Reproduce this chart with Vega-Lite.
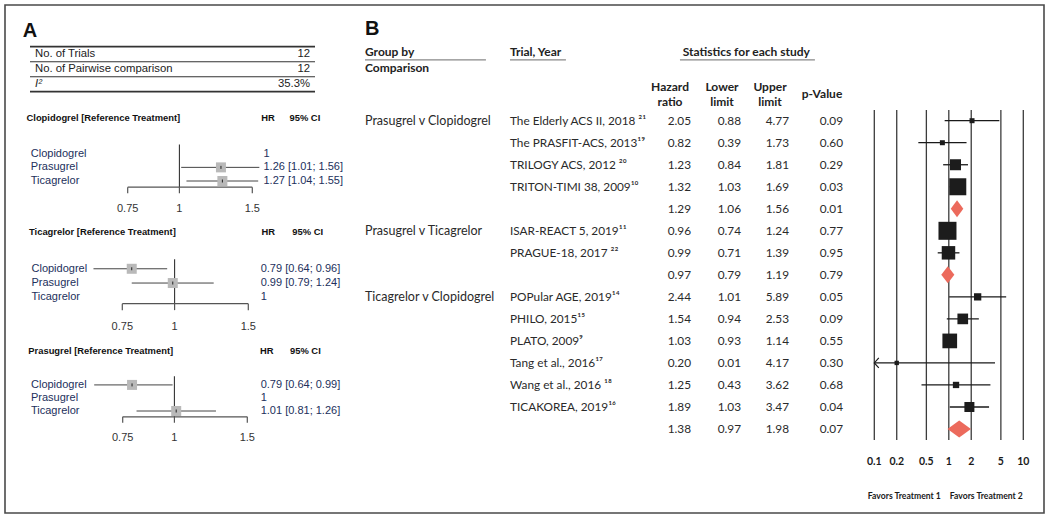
{
  "$schema": "https://vega.github.io/schema/vega-lite/v6.json",
  "width": 1039,
  "height": 508,
  "padding": 5,
  "autosize": {"type": "none"},
  "background": "white",
  "config": {
    "view": {"stroke": "#4a4a4a", "strokeWidth": 1.6},
    "axis": {"disable": true},
    "legend": {"disable": true}
  },
  "datasets": {
    "summary": [
      {"stat": "No. of Trials", "value": "12"},
      {"stat": "No. of Pairwise comparison", "value": "12"},
      {"stat": "I²", "value": "35.3%"}
    ],
    "nma": [
      {"ref": "Clopidogrel", "drug": "Clopidogrel", "row": 1, "hr": 1, "lower": null, "upper": null, "estimate": "1"},
      {"ref": "Clopidogrel", "drug": "Prasugrel", "row": 2, "hr": 1.26, "lower": 1.01, "upper": 1.56, "estimate": "1.26 [1.01; 1.56]"},
      {"ref": "Clopidogrel", "drug": "Ticagrelor", "row": 3, "hr": 1.27, "lower": 1.04, "upper": 1.55, "estimate": "1.27 [1.04; 1.55]"},
      {"ref": "Ticagrelor", "drug": "Clopidogrel", "row": 1, "hr": 0.79, "lower": 0.64, "upper": 0.96, "estimate": "0.79 [0.64; 0.96]"},
      {"ref": "Ticagrelor", "drug": "Prasugrel", "row": 2, "hr": 0.99, "lower": 0.79, "upper": 1.24, "estimate": "0.99 [0.79; 1.24]"},
      {"ref": "Ticagrelor", "drug": "Ticagrelor", "row": 3, "hr": 1, "lower": null, "upper": null, "estimate": "1"},
      {"ref": "Prasugrel", "drug": "Clopidogrel", "row": 1, "hr": 0.79, "lower": 0.64, "upper": 0.99, "estimate": "0.79 [0.64; 0.99]"},
      {"ref": "Prasugrel", "drug": "Prasugrel", "row": 2, "hr": 1, "lower": null, "upper": null, "estimate": "1"},
      {"ref": "Prasugrel", "drug": "Ticagrelor", "row": 3, "hr": 1.01, "lower": 0.81, "upper": 1.26, "estimate": "1.01 [0.81; 1.26]"}
    ],
    "ticksA": [{"t": 0.75}, {"t": 1}, {"t": 1.5}],
    "ticksB": [{"t": 0.1}, {"t": 0.2}, {"t": 0.5}, {"t": 1}, {"t": 2}, {"t": 5}, {"t": 10}],
    "studies": [
      {"row": 0, "group": "Prasugrel v Clopidogrel", "trial": "The Elderly ACS II, 2018 ²¹", "kind": "study", "hr": 2.05, "lower": 0.88, "upper": 4.77, "p": 0.09, "weight": 2.5},
      {"row": 1, "group": "Prasugrel v Clopidogrel", "trial": "The PRASFIT-ACS, 2013¹⁹", "kind": "study", "hr": 0.82, "lower": 0.39, "upper": 1.73, "p": 0.60, "weight": 2.5},
      {"row": 2, "group": "Prasugrel v Clopidogrel", "trial": "TRILOGY ACS, 2012 ²⁰", "kind": "study", "hr": 1.23, "lower": 0.84, "upper": 1.81, "p": 0.29, "weight": 12.1},
      {"row": 3, "group": "Prasugrel v Clopidogrel", "trial": "TRITON-TIMI 38, 2009¹⁰", "kind": "study", "hr": 1.32, "lower": 1.03, "upper": 1.69, "p": 0.03, "weight": 28.9},
      {"row": 4, "group": "Prasugrel v Clopidogrel", "trial": "", "kind": "pooled", "hr": 1.29, "lower": 1.06, "upper": 1.56, "p": 0.01},
      {"row": 5, "group": "Prasugrel v Ticagrelor", "trial": "ISAR-REACT 5, 2019¹¹", "kind": "study", "hr": 0.96, "lower": 0.74, "upper": 1.24, "p": 0.77, "weight": 32.4},
      {"row": 6, "group": "Prasugrel v Ticagrelor", "trial": "PRAGUE-18, 2017 ²²", "kind": "study", "hr": 0.99, "lower": 0.71, "upper": 1.39, "p": 0.95, "weight": 18.2},
      {"row": 7, "group": "Prasugrel v Ticagrelor", "trial": "", "kind": "pooled", "hr": 0.97, "lower": 0.79, "upper": 1.19, "p": 0.79},
      {"row": 8, "group": "Ticagrelor v Clopidogrel", "trial": "POPular AGE, 2019¹⁴", "kind": "study", "hr": 2.44, "lower": 1.01, "upper": 5.89, "p": 0.05, "weight": 5.3},
      {"row": 9, "group": "Ticagrelor v Clopidogrel", "trial": "PHILO, 2015¹⁵", "kind": "study", "hr": 1.54, "lower": 0.94, "upper": 2.53, "p": 0.09, "weight": 11.4},
      {"row": 10, "group": "Ticagrelor v Clopidogrel", "trial": "PLATO, 2009⁹", "kind": "study", "hr": 1.03, "lower": 0.93, "upper": 1.14, "p": 0.55, "weight": 21.6},
      {"row": 11, "group": "Ticagrelor v Clopidogrel", "trial": "Tang et al., 2016¹⁷", "kind": "study", "hr": 0.20, "lower": 0.01, "upper": 4.17, "p": 0.30, "weight": 1.9},
      {"row": 12, "group": "Ticagrelor v Clopidogrel", "trial": "Wang et al., 2016 ¹⁸", "kind": "study", "hr": 1.25, "lower": 0.43, "upper": 3.62, "p": 0.68, "weight": 4.0},
      {"row": 13, "group": "Ticagrelor v Clopidogrel", "trial": "TICAKOREA, 2019¹⁶", "kind": "study", "hr": 1.89, "lower": 1.03, "upper": 3.47, "p": 0.04, "weight": 10.0},
      {"row": 14, "group": "Ticagrelor v Clopidogrel", "trial": "", "kind": "pooled", "hr": 1.38, "lower": 0.97, "upper": 1.98, "p": 0.07}
    ]
  },
  "resolve": {"scale": {"x": "independent", "y": "independent", "size": "independent", "shape": "independent"}},
  "layer": [
    {
      "data": {"values": [{"panel": "A"}, {"panel": "B"}]},
      "mark": {"type": "text", "align": "left", "baseline": "middle", "font": "Liberation Sans", "fontSize": 20, "fontWeight": "bold", "color": "#111111"},
      "encoding": {
        "x": {"field": "panel", "type": "nominal", "scale": {"type": "point", "domain": ["A", "B"], "range": [17.7, 360], "padding": 0}},
        "y": {"field": "panel", "type": "nominal", "scale": {"type": "point", "domain": ["A", "B"], "range": [25.8, 24], "padding": 0}},
        "text": {"field": "panel"}
      }
    },
    {
      "data": {"name": "summary"},
      "layer": [
        {
          "mark": {"type": "rule", "color": "#333333"},
          "encoding": {
            "y": {"field": "stat", "type": "nominal", "bandPosition": 0, "scale": {"type": "band", "domain": ["No. of Trials", "No. of Pairwise comparison", "I²"], "range": [41.7, 86.7], "paddingInner": 0, "paddingOuter": 0}},
            "x": {"datum": 0, "scale": {"type": "linear", "domain": [0, 1, 2, 3], "range": [25, 30, 305, 310], "nice": false, "zero": false}},
            "x2": {"datum": 3},
            "strokeWidth": {"condition": {"test": "datum.stat === 'No. of Trials'", "value": 1.8}, "value": 1.1}
          }
        },
        {
          "transform": [{"filter": "datum.stat === 'I²'"}],
          "mark": {"type": "rule", "color": "#333333", "strokeWidth": 1.8},
          "encoding": {
            "y": {"field": "stat", "type": "nominal", "bandPosition": 1},
            "x": {"datum": 0},
            "x2": {"datum": 3}
          }
        },
        {
          "transform": [{"filter": "datum.stat !== 'I²'"}],
          "mark": {"type": "text", "align": "left", "baseline": "middle", "font": "Liberation Sans", "fontSize": 11.3, "color": "#222222"},
          "encoding": {
            "y": {"field": "stat", "type": "nominal", "bandPosition": 0.5},
            "x": {"datum": 1},
            "text": {"field": "stat"}
          }
        },
        {
          "transform": [{"filter": "datum.stat === 'I²'"}],
          "mark": {"type": "text", "align": "left", "baseline": "middle", "font": "Liberation Sans", "fontSize": 11.3, "fontStyle": "italic", "color": "#222222"},
          "encoding": {
            "y": {"field": "stat", "type": "nominal", "bandPosition": 0.5},
            "x": {"datum": 1},
            "text": {"field": "stat"}
          }
        },
        {
          "mark": {"type": "text", "align": "right", "baseline": "middle", "font": "Liberation Sans", "fontSize": 11.3, "color": "#222222"},
          "encoding": {
            "y": {"field": "stat", "type": "nominal", "bandPosition": 0.5},
            "x": {"datum": 2},
            "text": {"field": "value"}
          }
        }
      ]
    },
    {
      "resolve": {"scale": {"x": "independent"}},
      "layer": [
        {
          "layer": [
            {
              "data": {"name": "nma"},
              "transform": [{"filter": "datum.ref === 'Clopidogrel'"}],
              "mark": {"type": "text", "align": "left", "baseline": "middle", "font": "Liberation Sans", "fontSize": 11, "color": "#22305c"},
              "encoding": {
                "x": {"datum": 0, "scale": {"type": "linear", "domain": [-1, 0, 1, 2, 3], "range": [21.5, 25.8, 258.5, 263, 284.5], "nice": false, "zero": false}},
                "y": {"field": "row", "type": "quantitative", "scale": {"domain": [-1.6, 3], "range": [113.3, 176], "nice": false, "zero": false}},
                "text": {"field": "drug"}
              }
            },
            {
              "data": {"name": "nma"},
              "transform": [{"filter": "datum.ref === 'Clopidogrel'"}],
              "mark": {"type": "text", "align": "left", "baseline": "middle", "font": "Liberation Sans", "fontSize": 11, "color": "#22305c"},
              "encoding": {
                "x": {"datum": 1},
                "y": {"field": "row", "type": "quantitative"},
                "text": {"field": "estimate"}
              }
            },
            {
              "data": {"values": [{"title": "Clopidogrel [Reference Treatment]", "hrh": "HR", "cih": "95% CI"}]},
              "layer": [
                {"mark": {"type": "text", "align": "left", "baseline": "middle", "font": "Liberation Sans", "fontSize": 9.4, "fontWeight": "bold", "color": "#111111"},
                 "encoding": {"x": {"datum": -1}, "y": {"datum": -1.6}, "text": {"field": "title"}}},
                {"mark": {"type": "text", "align": "center", "baseline": "middle", "font": "Liberation Sans", "fontSize": 9.4, "fontWeight": "bold", "color": "#111111"},
                 "encoding": {"x": {"datum": 2}, "y": {"datum": -1.6}, "text": {"field": "hrh"}}},
                {"mark": {"type": "text", "align": "left", "baseline": "middle", "font": "Liberation Sans", "fontSize": 9.4, "fontWeight": "bold", "color": "#111111"},
                 "encoding": {"x": {"datum": 3}, "y": {"datum": -1.6}, "text": {"field": "cih"}}}
              ]
            }
          ]
        },
        {
          "layer": [
            {
              "data": {"values": [{"v": 1}]},
              "mark": {"type": "rule", "color": "#333333", "strokeWidth": 1.1},
              "encoding": {
                "x": {"field": "v", "type": "quantitative", "scale": {"type": "log", "domain": [0.75, 1.5], "range": [122.7, 247.3], "nice": false}},
                "y": {"datum": 0.33},
                "y2": {"datum": 3.45}
              }
            },
            {
              "data": {"name": "nma"},
              "transform": [{"filter": "datum.ref === 'Clopidogrel' && datum.lower != null"}],
              "layer": [
                {"mark": {"type": "rule", "color": "#444444", "strokeWidth": 1},
                 "encoding": {"x": {"field": "lower", "type": "quantitative"}, "x2": {"field": "upper"}, "y": {"field": "row", "type": "quantitative"}}},
                {"mark": {"type": "point", "shape": "square", "filled": true, "color": "#b9b9b9", "size": 100, "opacity": 1},
                 "encoding": {"x": {"field": "hr", "type": "quantitative"}, "y": {"field": "row", "type": "quantitative"}}},
                {"mark": {"type": "point", "shape": "M0,-1L0,1", "filled": false, "color": "#222222", "strokeWidth": 1, "size": 9, "opacity": 1},
                 "encoding": {"x": {"field": "hr", "type": "quantitative"}, "y": {"field": "row", "type": "quantitative"}}}
              ]
            },
            {
              "data": {"name": "ticksA"},
              "layer": [
                {"transform": [{"aggregate": [{"op": "min", "field": "t", "as": "lo"}, {"op": "max", "field": "t", "as": "hi"}]}],
                 "mark": {"type": "rule", "color": "#555555", "strokeWidth": 1.2},
                 "encoding": {"x": {"field": "lo", "type": "quantitative"}, "x2": {"field": "hi"}, "y": {"datum": 3.45}}},
                {"mark": {"type": "rule", "color": "#555555", "strokeWidth": 1.2},
                 "encoding": {"x": {"field": "t", "type": "quantitative"}, "y": {"datum": 3.45}, "y2": {"datum": 3.9}}},
                {"mark": {"type": "text", "align": "center", "baseline": "middle", "font": "Liberation Sans", "fontSize": 11, "color": "#333333"},
                 "encoding": {"x": {"field": "t", "type": "quantitative"}, "y": {"datum": 5.07}, "text": {"field": "t", "type": "quantitative", "format": "~g"}}}
              ]
            }
          ]
        }
      ]
    },
    {
      "resolve": {"scale": {"x": "independent"}},
      "layer": [
        {
          "layer": [
            {
              "data": {"name": "nma"},
              "transform": [{"filter": "datum.ref === 'Ticagrelor'"}],
              "mark": {"type": "text", "align": "left", "baseline": "middle", "font": "Liberation Sans", "fontSize": 11, "color": "#22305c"},
              "encoding": {
                "x": {"datum": 0, "scale": {"type": "linear", "domain": [-1, 0, 1, 2, 3], "range": [24, 26.5, 255.7, 263.3, 287.3], "nice": false, "zero": false}},
                "y": {"field": "row", "type": "quantitative", "scale": {"domain": [-1.6, 3], "range": [226.7, 292.3], "nice": false, "zero": false}},
                "text": {"field": "drug"}
              }
            },
            {
              "data": {"name": "nma"},
              "transform": [{"filter": "datum.ref === 'Ticagrelor'"}],
              "mark": {"type": "text", "align": "left", "baseline": "middle", "font": "Liberation Sans", "fontSize": 11, "color": "#22305c"},
              "encoding": {
                "x": {"datum": 1},
                "y": {"field": "row", "type": "quantitative"},
                "text": {"field": "estimate"}
              }
            },
            {
              "data": {"values": [{"title": "Ticagrelor [Reference Treatment]", "hrh": "HR", "cih": "95% CI"}]},
              "layer": [
                {"mark": {"type": "text", "align": "left", "baseline": "middle", "font": "Liberation Sans", "fontSize": 9.4, "fontWeight": "bold", "color": "#111111"},
                 "encoding": {"x": {"datum": -1}, "y": {"datum": -1.6}, "text": {"field": "title"}}},
                {"mark": {"type": "text", "align": "center", "baseline": "middle", "font": "Liberation Sans", "fontSize": 9.4, "fontWeight": "bold", "color": "#111111"},
                 "encoding": {"x": {"datum": 2}, "y": {"datum": -1.6}, "text": {"field": "hrh"}}},
                {"mark": {"type": "text", "align": "left", "baseline": "middle", "font": "Liberation Sans", "fontSize": 9.4, "fontWeight": "bold", "color": "#111111"},
                 "encoding": {"x": {"datum": 3}, "y": {"datum": -1.6}, "text": {"field": "cih"}}}
              ]
            }
          ]
        },
        {
          "layer": [
            {
              "data": {"values": [{"v": 1}]},
              "mark": {"type": "rule", "color": "#333333", "strokeWidth": 1.1},
              "encoding": {
                "x": {"field": "v", "type": "quantitative", "scale": {"type": "log", "domain": [0.75, 1.5], "range": [117.3, 243.3], "nice": false}},
                "y": {"datum": 0.33},
                "y2": {"datum": 3.45}
              }
            },
            {
              "data": {"name": "nma"},
              "transform": [{"filter": "datum.ref === 'Ticagrelor' && datum.lower != null"}],
              "layer": [
                {"mark": {"type": "rule", "color": "#444444", "strokeWidth": 1},
                 "encoding": {"x": {"field": "lower", "type": "quantitative"}, "x2": {"field": "upper"}, "y": {"field": "row", "type": "quantitative"}}},
                {"mark": {"type": "point", "shape": "square", "filled": true, "color": "#b9b9b9", "size": 100, "opacity": 1},
                 "encoding": {"x": {"field": "hr", "type": "quantitative"}, "y": {"field": "row", "type": "quantitative"}}},
                {"mark": {"type": "point", "shape": "M0,-1L0,1", "filled": false, "color": "#222222", "strokeWidth": 1, "size": 9, "opacity": 1},
                 "encoding": {"x": {"field": "hr", "type": "quantitative"}, "y": {"field": "row", "type": "quantitative"}}}
              ]
            },
            {
              "data": {"name": "ticksA"},
              "layer": [
                {"transform": [{"aggregate": [{"op": "min", "field": "t", "as": "lo"}, {"op": "max", "field": "t", "as": "hi"}]}],
                 "mark": {"type": "rule", "color": "#555555", "strokeWidth": 1.2},
                 "encoding": {"x": {"field": "lo", "type": "quantitative"}, "x2": {"field": "hi"}, "y": {"datum": 3.45}}},
                {"mark": {"type": "rule", "color": "#555555", "strokeWidth": 1.2},
                 "encoding": {"x": {"field": "t", "type": "quantitative"}, "y": {"datum": 3.45}, "y2": {"datum": 3.9}}},
                {"mark": {"type": "text", "align": "center", "baseline": "middle", "font": "Liberation Sans", "fontSize": 11, "color": "#333333"},
                 "encoding": {"x": {"field": "t", "type": "quantitative"}, "y": {"datum": 5.07}, "text": {"field": "t", "type": "quantitative", "format": "~g"}}}
              ]
            }
          ]
        }
      ]
    },
    {
      "resolve": {"scale": {"x": "independent"}},
      "layer": [
        {
          "layer": [
            {
              "data": {"name": "nma"},
              "transform": [{"filter": "datum.ref === 'Prasugrel'"}],
              "mark": {"type": "text", "align": "left", "baseline": "middle", "font": "Liberation Sans", "fontSize": 11, "color": "#22305c"},
              "encoding": {
                "x": {"datum": 0, "scale": {"type": "linear", "domain": [-1, 0, 1, 2, 3], "range": [23.3, 26, 255.7, 261.7, 285], "nice": false, "zero": false}},
                "y": {"field": "row", "type": "quantitative", "scale": {"domain": [-1.6, 3], "range": [346, 406], "nice": false, "zero": false}},
                "text": {"field": "drug"}
              }
            },
            {
              "data": {"name": "nma"},
              "transform": [{"filter": "datum.ref === 'Prasugrel'"}],
              "mark": {"type": "text", "align": "left", "baseline": "middle", "font": "Liberation Sans", "fontSize": 11, "color": "#22305c"},
              "encoding": {
                "x": {"datum": 1},
                "y": {"field": "row", "type": "quantitative"},
                "text": {"field": "estimate"}
              }
            },
            {
              "data": {"values": [{"title": "Prasugrel [Reference Treatment]", "hrh": "HR", "cih": "95% CI"}]},
              "layer": [
                {"mark": {"type": "text", "align": "left", "baseline": "middle", "font": "Liberation Sans", "fontSize": 9.4, "fontWeight": "bold", "color": "#111111"},
                 "encoding": {"x": {"datum": -1}, "y": {"datum": -1.6}, "text": {"field": "title"}}},
                {"mark": {"type": "text", "align": "center", "baseline": "middle", "font": "Liberation Sans", "fontSize": 9.4, "fontWeight": "bold", "color": "#111111"},
                 "encoding": {"x": {"datum": 2}, "y": {"datum": -1.6}, "text": {"field": "hrh"}}},
                {"mark": {"type": "text", "align": "left", "baseline": "middle", "font": "Liberation Sans", "fontSize": 9.4, "fontWeight": "bold", "color": "#111111"},
                 "encoding": {"x": {"datum": 3}, "y": {"datum": -1.6}, "text": {"field": "cih"}}}
              ]
            }
          ]
        },
        {
          "layer": [
            {
              "data": {"values": [{"v": 1}]},
              "mark": {"type": "rule", "color": "#333333", "strokeWidth": 1.1},
              "encoding": {
                "x": {"field": "v", "type": "quantitative", "scale": {"type": "log", "domain": [0.75, 1.5], "range": [117.7, 242.3], "nice": false}},
                "y": {"datum": 0.33},
                "y2": {"datum": 3.45}
              }
            },
            {
              "data": {"name": "nma"},
              "transform": [{"filter": "datum.ref === 'Prasugrel' && datum.lower != null"}],
              "layer": [
                {"mark": {"type": "rule", "color": "#444444", "strokeWidth": 1},
                 "encoding": {"x": {"field": "lower", "type": "quantitative"}, "x2": {"field": "upper"}, "y": {"field": "row", "type": "quantitative"}}},
                {"mark": {"type": "point", "shape": "square", "filled": true, "color": "#b9b9b9", "size": 100, "opacity": 1},
                 "encoding": {"x": {"field": "hr", "type": "quantitative"}, "y": {"field": "row", "type": "quantitative"}}},
                {"mark": {"type": "point", "shape": "M0,-1L0,1", "filled": false, "color": "#222222", "strokeWidth": 1, "size": 9, "opacity": 1},
                 "encoding": {"x": {"field": "hr", "type": "quantitative"}, "y": {"field": "row", "type": "quantitative"}}}
              ]
            },
            {
              "data": {"name": "ticksA"},
              "layer": [
                {"transform": [{"aggregate": [{"op": "min", "field": "t", "as": "lo"}, {"op": "max", "field": "t", "as": "hi"}]}],
                 "mark": {"type": "rule", "color": "#555555", "strokeWidth": 1.2},
                 "encoding": {"x": {"field": "lo", "type": "quantitative"}, "x2": {"field": "hi"}, "y": {"datum": 3.45}}},
                {"mark": {"type": "rule", "color": "#555555", "strokeWidth": 1.2},
                 "encoding": {"x": {"field": "t", "type": "quantitative"}, "y": {"datum": 3.45}, "y2": {"datum": 3.9}}},
                {"mark": {"type": "text", "align": "center", "baseline": "middle", "font": "Liberation Sans", "fontSize": 11, "color": "#333333"},
                 "encoding": {"x": {"field": "t", "type": "quantitative"}, "y": {"datum": 5.07}, "text": {"field": "t", "type": "quantitative", "format": "~g"}}}
              ]
            }
          ]
        }
      ]
    },
    {
      "data": {"name": "studies"},
      "resolve": {"scale": {"x": "independent"}},
      "layer": [
        {
          "layer": [
            {
              "transform": [{"aggregate": [{"op": "min", "field": "row", "as": "row"}], "groupby": ["group"]}],
              "mark": {"type": "text", "align": "left", "baseline": "middle", "font": "Lato", "fontSize": 12.5, "color": "#2a2a2a"},
              "encoding": {
                "x": {"datum": 0, "scale": {"type": "linear", "domain": [0, 1, 2, 3, 4, 5], "range": [360, 505, 686, 736, 784, 838], "nice": false, "zero": false}},
                "y": {"field": "row", "type": "quantitative", "scale": {"domain": [0, 14], "range": [115.7, 424], "nice": false, "zero": false}},
                "text": {"field": "group"}
              }
            },
            {
              "transform": [{"filter": "datum.kind === 'study'"}],
              "mark": {"type": "text", "align": "left", "baseline": "middle", "font": "Lato", "fontSize": 11.8, "color": "#2a2a2a"},
              "encoding": {"x": {"datum": 1}, "y": {"field": "row", "type": "quantitative"}, "text": {"field": "trial"}}
            },
            {
              "mark": {"type": "text", "align": "right", "baseline": "middle", "font": "Lato", "fontSize": 11.8, "color": "#2a2a2a"},
              "encoding": {"x": {"datum": 2}, "y": {"field": "row", "type": "quantitative"}, "text": {"field": "hr", "type": "quantitative", "format": ".2f"}}
            },
            {
              "mark": {"type": "text", "align": "right", "baseline": "middle", "font": "Lato", "fontSize": 11.8, "color": "#2a2a2a"},
              "encoding": {"x": {"datum": 3}, "y": {"field": "row", "type": "quantitative"}, "text": {"field": "lower", "type": "quantitative", "format": ".2f"}}
            },
            {
              "mark": {"type": "text", "align": "right", "baseline": "middle", "font": "Lato", "fontSize": 11.8, "color": "#2a2a2a"},
              "encoding": {"x": {"datum": 4}, "y": {"field": "row", "type": "quantitative"}, "text": {"field": "upper", "type": "quantitative", "format": ".2f"}}
            },
            {
              "mark": {"type": "text", "align": "right", "baseline": "middle", "font": "Lato", "fontSize": 11.8, "color": "#2a2a2a"},
              "encoding": {"x": {"datum": 5}, "y": {"field": "row", "type": "quantitative"}, "text": {"field": "p", "type": "quantitative", "format": ".2f"}}
            },
            {
              "data": {"values": [{"h": "header"}]},
              "layer": [
                {"mark": {"type": "text", "align": "left", "baseline": "middle", "font": "Lato", "fontSize": 12, "fontWeight": "bold", "color": "#222222"},
                 "encoding": {"x": {"datum": 0}, "y": {"datum": -3.12}, "text": {"value": "Group by"}}},
                {"mark": {"type": "text", "align": "left", "baseline": "middle", "font": "Lato", "fontSize": 12, "fontWeight": "bold", "color": "#222222"},
                 "encoding": {"x": {"datum": 0}, "y": {"datum": -2.39}, "text": {"value": "Comparison"}}},
                {"mark": {"type": "text", "align": "left", "baseline": "middle", "font": "Lato", "fontSize": 12, "fontWeight": "bold", "color": "#222222"},
                 "encoding": {"x": {"datum": 1}, "y": {"datum": -3.12}, "text": {"value": "Trial, Year"}}},
                {"mark": {"type": "text", "align": "center", "baseline": "middle", "font": "Lato", "fontSize": 12, "fontWeight": "bold", "color": "#222222"},
                 "encoding": {"x": {"datum": 3.11}, "y": {"datum": -3.12}, "text": {"value": "Statistics for each study"}}},
                {"mark": {"type": "text", "align": "center", "baseline": "middle", "font": "Lato", "fontSize": 12, "fontWeight": "bold", "color": "#222222", "lineHeight": 15, "dx": -21},
                 "encoding": {"x": {"datum": 2}, "y": {"datum": -1.55}, "text": {"value": ["Hazard", "ratio"]}}},
                {"mark": {"type": "text", "align": "center", "baseline": "middle", "font": "Lato", "fontSize": 12, "fontWeight": "bold", "color": "#222222", "lineHeight": 15, "dx": -19},
                 "encoding": {"x": {"datum": 3}, "y": {"datum": -1.55}, "text": {"value": ["Lower", "limit"]}}},
                {"mark": {"type": "text", "align": "center", "baseline": "middle", "font": "Lato", "fontSize": 12, "fontWeight": "bold", "color": "#222222", "lineHeight": 15, "dx": -19},
                 "encoding": {"x": {"datum": 4}, "y": {"datum": -1.55}, "text": {"value": ["Upper", "limit"]}}},
                {"mark": {"type": "text", "align": "center", "baseline": "middle", "font": "Lato", "fontSize": 12, "fontWeight": "bold", "color": "#222222", "dx": -21},
                 "encoding": {"x": {"datum": 5}, "y": {"datum": -1.21}, "text": {"value": "p-Value"}}},
                {"mark": {"type": "rule", "color": "#888888", "strokeWidth": 1.2},
                 "encoding": {"x": {"datum": 0}, "x2": {"datum": 0.834}, "y": {"datum": -2.76}}},
                {"mark": {"type": "rule", "color": "#888888", "strokeWidth": 1.2},
                 "encoding": {"x": {"datum": 1}, "x2": {"datum": 1.309}, "y": {"datum": -2.76}}},
                {"mark": {"type": "rule", "color": "#888888", "strokeWidth": 1.2},
                 "encoding": {"x": {"datum": 1.939}, "x2": {"datum": 4.48}, "y": {"datum": -2.76}}}
              ]
            }
          ]
        },
        {
          "layer": [
            {
              "data": {"name": "ticksB"},
              "layer": [
                {"mark": {"type": "rule", "color": "#3c3c3c", "strokeWidth": 1.3},
                 "encoding": {
                   "x": {"field": "t", "type": "quantitative", "scale": {"type": "log", "domain": [0.1, 10], "range": [869.3, 1018.3], "clamp": true, "nice": false}},
                   "y": {"datum": -0.49},
                   "y2": {"datum": 14.5}
                 }},
                {"mark": {"type": "text", "align": "center", "baseline": "middle", "font": "Lato", "fontSize": 10.5, "fontWeight": "bold", "color": "#1a1a1a"},
                 "encoding": {"x": {"field": "t", "type": "quantitative"}, "y": {"datum": 15.5}, "text": {"field": "t", "type": "quantitative", "format": "~g"}}}
              ]
            },
            {
              "data": {"values": [{"v": 1}]},
              "layer": [
                {"mark": {"type": "text", "align": "right", "baseline": "middle", "font": "Lato", "fontSize": 8.6, "fontWeight": "bold", "color": "#1a1a1a", "dx": -8},
                 "encoding": {"x": {"field": "v", "type": "quantitative"}, "y": {"datum": 17.03}, "text": {"value": "Favors Treatment 1"}}},
                {"mark": {"type": "text", "align": "left", "baseline": "middle", "font": "Lato", "fontSize": 8.6, "fontWeight": "bold", "color": "#1a1a1a", "dx": 1},
                 "encoding": {"x": {"field": "v", "type": "quantitative"}, "y": {"datum": 17.03}, "text": {"value": "Favors Treatment 2"}}}
              ]
            },
            {
              "transform": [{"filter": "datum.kind === 'study'"}],
              "layer": [
                {"mark": {"type": "rule", "color": "#1a1a1a", "strokeWidth": 1.3},
                 "encoding": {"x": {"field": "lower", "type": "quantitative"}, "x2": {"field": "upper"}, "y": {"field": "row", "type": "quantitative"}}},
                {"mark": {"type": "point", "shape": "square", "filled": true, "color": "#1c1c1c", "opacity": 1},
                 "encoding": {
                   "x": {"field": "hr", "type": "quantitative"},
                   "y": {"field": "row", "type": "quantitative"},
                   "size": {"field": "weight", "type": "quantitative", "scale": {"domain": [0, 30], "range": [0, 300]}}
                 }}
              ]
            },
            {
              "transform": [{"filter": "datum.lower < 0.1"}],
              "mark": {"type": "point", "shape": "M0.9,-1L0,0L0.9,1", "filled": false, "color": "#1a1a1a", "strokeWidth": 1.2, "size": 100, "opacity": 1},
              "encoding": {"x": {"field": "lower", "type": "quantitative"}, "y": {"field": "row", "type": "quantitative"}}
            },
            {
              "transform": [{"filter": "datum.kind === 'pooled'"}],
              "mark": {"type": "point", "filled": true, "color": "#ec6a5c", "size": 289, "opacity": 1, "strokeWidth": 0},
              "encoding": {
                "x": {"field": "hr", "type": "quantitative"},
                "y": {"field": "row", "type": "quantitative"},
                "shape": {"field": "group", "type": "nominal", "scale": {"domain": ["Prasugrel v Clopidogrel", "Prasugrel v Ticagrelor", "Ticagrelor v Clopidogrel"], "range": ["M-0.74,0L0,-1L0.74,0L0,1Z", "M-0.77,0L0,-1L0.77,0L0,1Z", "M-1.38,0L0,-1L1.38,0L0,1Z"]}}
              }
            }
          ]
        }
      ]
    }
  ]
}
